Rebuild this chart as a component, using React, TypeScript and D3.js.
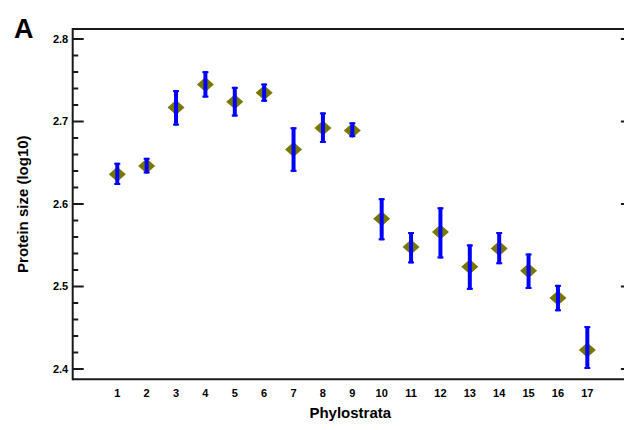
import React from "react";
import * as d3 from "d3";

const phylostrata = [1, 2, 3, 4, 5, 6, 7, 8, 9, 10, 11, 12, 13, 14, 15, 16, 17];
const means = [2.636, 2.646, 2.717, 2.745, 2.724, 2.735, 2.666, 2.692, 2.689, 2.582, 2.548, 2.566, 2.524, 2.546, 2.519, 2.486, 2.423];
const upper = [2.650, 2.656, 2.738, 2.761, 2.742, 2.746, 2.693, 2.711, 2.699, 2.607, 2.566, 2.596, 2.551, 2.566, 2.540, 2.502, 2.452];
const lower = [2.623, 2.637, 2.695, 2.729, 2.706, 2.724, 2.639, 2.674, 2.681, 2.556, 2.528, 2.534, 2.496, 2.527, 2.497, 2.470, 2.400];
const yMajorTicks = [2.4, 2.5, 2.6, 2.7, 2.8];
const yMinorTicks = [2.42, 2.44, 2.46, 2.48, 2.52, 2.54, 2.56, 2.58, 2.62, 2.64, 2.66, 2.68, 2.72, 2.74, 2.76, 2.78];

const W = 624;
const H = 430;
const left = 72.7;
const right = 631.9;
const top = 29;
const bottom = 379.3;

export default function App() {
  const x = d3.scaleLinear().domain([-0.5174, 18.5174]).range([left, right]);
  const y = d3.scaleLinear().domain([2.4, 2.8]).range([369, 39]);
  const font = "'Liberation Sans', Arial, sans-serif";
  const axisColor = "#1a1a1a";
  const diamond = (cx: number, cy: number) => {
    const hw = 8.5, hh = 7.5;
    return `M${cx - hw},${cy}L${cx},${cy - hh}L${cx + hw},${cy}L${cx},${cy + hh}Z`;
  };
  return (
    <svg width={W} height={H} style={{ position: "absolute", left: 0, top: 0, background: "#fff" }} fontFamily={font}>
      <rect x={0} y={0} width={W} height={H} fill="#fff" />
      <text x={14} y={38} fontSize={27} fontWeight="bold" fill="#000">A</text>
      <line x1={left} x2={right} y1={top} y2={top} stroke={axisColor} strokeWidth={2} />
      <line x1={left} x2={right} y1={bottom} y2={bottom} stroke={axisColor} strokeWidth={2} />
      <line x1={left} x2={left} y1={top - 1} y2={bottom + 1} stroke={axisColor} strokeWidth={2} />
      <line x1={right} x2={right} y1={top - 1} y2={bottom + 1} stroke={axisColor} strokeWidth={2} />
      {yMajorTicks.map((t) => (
        <g key={"maj" + t}>
          <line x1={left} x2={left + 11} y1={y(t)} y2={y(t)} stroke={axisColor} strokeWidth={2} />
          <line x1={right} x2={right - 11} y1={y(t)} y2={y(t)} stroke={axisColor} strokeWidth={2} />
          <text x={left - 4.5} y={y(t)} dy="0.35em" textAnchor="end" fontSize={11} fontWeight="bold" fill="#000">
            {t.toFixed(1)}
          </text>
        </g>
      ))}
      {yMinorTicks.map((t) => (
        <line key={"min" + t} x1={left} x2={left + 5.5} y1={y(t)} y2={y(t)} stroke={axisColor} strokeWidth={2} />
      ))}
      {phylostrata.map((p) => (
        <text key={"xl" + p} x={x(p)} y={397} textAnchor="middle" fontSize={11} fontWeight="bold" fill="#000">
          {p}
        </text>
      ))}
      <text x={(left + right) / 2 - 2} y={418} textAnchor="middle" fontSize={15} fontWeight="bold" fill="#000">
        Phylostrata
      </text>
      <text
        transform={`translate(28,${(top + bottom) / 2}) rotate(-90)`}
        textAnchor="middle"
        fontSize={15}
        fontWeight="bold"
        fill="#000"
      >
        Protein size (log10)
      </text>
      {phylostrata.map((p, i) => (
        <g key={"pt" + p}>
          <path d={diamond(x(p), y(means[i]))} fill="#787800" />
          <line x1={x(p)} x2={x(p)} y1={y(upper[i])} y2={y(lower[i])} stroke="#0000ff" strokeWidth={4} />
          <line x1={x(p) - 3} x2={x(p) + 3} y1={y(upper[i]) + 1} y2={y(upper[i]) + 1} stroke="#0000ff" strokeWidth={2} />
          <line x1={x(p) - 3} x2={x(p) + 3} y1={y(lower[i]) - 1} y2={y(lower[i]) - 1} stroke="#0000ff" strokeWidth={2} />
        </g>
      ))}
    </svg>
  );
}
